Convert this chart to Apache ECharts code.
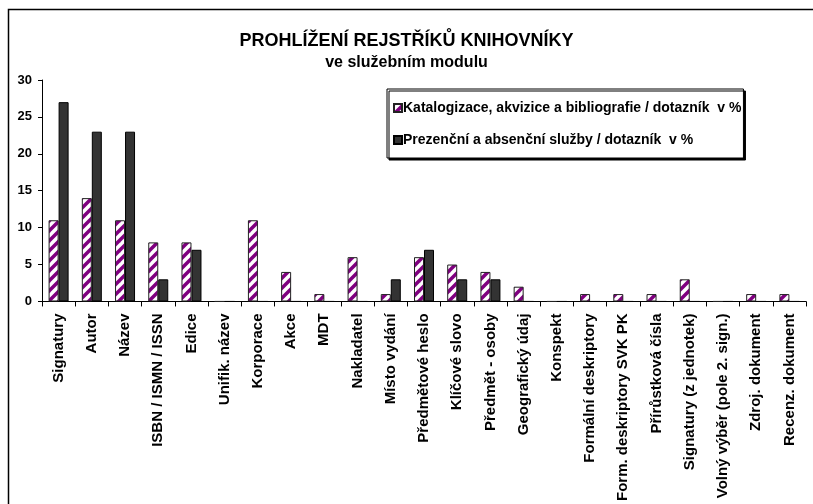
<!DOCTYPE html>
<html>
<head>
<meta charset="utf-8">
<script src="https://cdn.jsdelivr.net/npm/echarts@6/dist/echarts.min.js"></script>
<style>
html, body { margin: 0; padding: 0; background: #fff; }
#chart { width: 813px; height: 504px; }
</style>
</head>
<body>
<div id="chart"></div>
<script>
const categories = ['Signatury', 'Autor', 'Název', 'ISBN / ISMN / ISSN', 'Edice', 'Unifik. název',
    'Korporace', 'Akce', 'MDT', 'Nakladatel', 'Místo vydání', 'Předmětové heslo', 'Klíčové slovo',
    'Předmět - osoby', 'Geografický údaj', 'Konspekt', 'Formální deskriptory',
    'Form. deskriptory SVK PK', 'Přírůstková čísla', 'Signatury (z jednotek)',
    'Volný výběr (pole 2. sign.)', 'Zdroj. dokument', 'Recenz. dokument'];
const katalogizace = [11, 14, 11, 8, 8, 0, 11, 4, 1, 6, 1, 6, 5, 4, 2, 0, 1, 1, 1, 3, 0, 1, 1];
const prezencni = [27, 23, 23, 3, 7, 0, 0, 0, 0, 0, 3, 7, 3, 3, 0, 0, 0, 0, 0, 0, 0, 0, 0];
const seriesNames = ['Katalogizace, akvizice a bibliografie / dotazník  v %',
    'Prezenční a absenční služby / dotazník  v %'];

// diagonal purple/white hatch
function hatch() {
    const c = document.createElement('canvas');
    c.width = 10; c.height = 10;
    const g = c.getContext('2d');
    g.fillStyle = '#fff';
    g.fillRect(0, 0, 10, 10);
    g.strokeStyle = '#800080';
    g.lineWidth = 3.5;
    [[-5, 5, 5, -5], [0, 10, 10, 0], [5, 15, 15, 5]].forEach(l => {
        g.beginPath();
        g.moveTo(l[0], l[1]);
        g.lineTo(l[2], l[3]);
        g.stroke();
    });
    return c;
}

const font = 'Liberation Sans, Arial, sans-serif';
const myChart = echarts.init(document.getElementById('chart'));
const option = {
    backgroundColor: '#fff',
    animation: false,
    textStyle: { fontFamily: font },
    graphic: [{
        type: 'rect',
        shape: { x: 8.5, y: 9.5, width: 900, height: 600 },
        style: { fill: 'none', stroke: '#000', lineWidth: 1.5 }
    }],
    title: {
        text: 'PROHLÍŽENÍ REJSTŘÍKŮ KNIHOVNÍKY',
        subtext: 've služebním modulu',
        left: 'center',
        top: 27,
        itemGap: 5,
        textStyle: { fontFamily: font, fontSize: 18, fontWeight: 'bold', color: '#000' },
        subtextStyle: { fontFamily: font, fontSize: 16, fontWeight: 'bold', color: '#000' }
    },
    legend: {
        orient: 'vertical',
        left: 387,
        top: 89,
        padding: [12, 2, 11, 6],
        itemGap: 18,
        itemWidth: 8,
        itemHeight: 8,
        icon: 'rect',
        backgroundColor: '#fff',
        borderColor: '#000',
        borderWidth: 1,
        shadowColor: '#000',
        shadowBlur: 0,
        shadowOffsetX: 2,
        shadowOffsetY: 2,
        textStyle: { fontFamily: font, fontSize: 14, fontWeight: 'bold', color: '#000', padding: [0, 0, 0, -4] },
        data: seriesNames
    },
    grid: { left: 42, right: 7, top: 80, bottom: 202 },
    xAxis: {
        type: 'category',
        data: categories,
        axisLine: { lineStyle: { color: '#000', width: 1 } },
        axisTick: { show: true, length: 5, lineStyle: { color: '#000' } },
        axisLabel: {
            rotate: 90,
            interval: 0,
            margin: 12,
            fontFamily: font,
            fontSize: 15,
            fontWeight: 'bold',
            color: '#000'
        }
    },
    yAxis: {
        type: 'value',
        min: 0,
        max: 30,
        interval: 5,
        splitLine: { show: false },
        axisLine: { show: true, lineStyle: { color: '#000', width: 1 } },
        axisTick: { show: true, length: 4, lineStyle: { color: '#000' } },
        axisLabel: { margin: 10, fontFamily: font, fontSize: 13, fontWeight: 'bold', color: '#000' }
    },
    series: [
        {
            name: seriesNames[0],
            type: 'bar',
            data: katalogizace,
            barWidth: 10,
            barGap: '0%',
            itemStyle: {
                color: { image: hatch(), repeat: 'repeat' },
                borderColor: '#222',
                borderWidth: 1
            }
        },
        {
            name: seriesNames[1],
            type: 'bar',
            data: prezencni,
            barWidth: 10,
            itemStyle: {
                color: '#333333',
                borderColor: '#000',
                borderWidth: 1
            }
        }
    ]
};
myChart.setOption(option);
</script>
</body>
</html>
